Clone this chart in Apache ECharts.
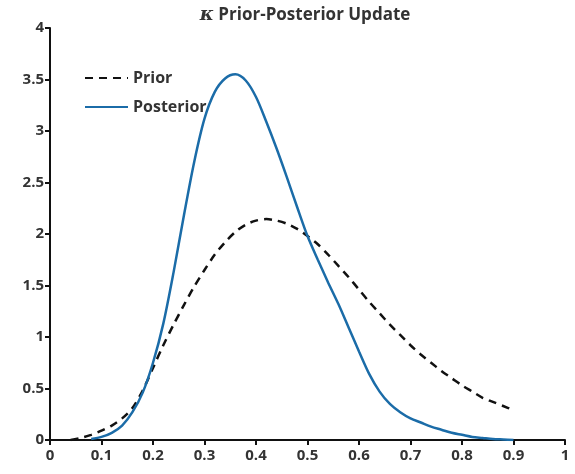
<!DOCTYPE html>
<html>
<head>
<meta charset="utf-8">
<script src="https://cdn.jsdelivr.net/npm/echarts@6/dist/echarts.min.js"></script>
<style>html,body{margin:0;padding:0;background:#fff;}#c{width:575px;height:474px;}</style>
</head>
<body>
<div id="c"></div>
<script>
var priorX = [0.04,0.06,0.08,0.10,0.12,0.14,0.16,0.18,0.20,0.22,0.24,0.26,0.28,0.30,0.32,0.34,0.36,0.38,0.40,0.42,0.44,0.46,0.48,0.50,0.52,0.54,0.56,0.58,0.60,0.62,0.64,0.66,0.68,0.70,0.72,0.74,0.76,0.78,0.80,0.82,0.84,0.86,0.88,0.90];
var priorY = [0.00,0.02,0.05,0.09,0.14,0.21,0.31,0.48,0.70,0.92,1.12,1.31,1.49,1.65,1.80,1.92,2.02,2.09,2.13,2.145,2.13,2.10,2.05,1.98,1.90,1.80,1.69,1.58,1.46,1.34,1.23,1.12,1.02,0.92,0.83,0.75,0.67,0.60,0.53,0.47,0.41,0.37,0.33,0.29];
var postX = [0.08,0.10,0.12,0.14,0.16,0.18,0.20,0.22,0.24,0.26,0.28,0.30,0.32,0.34,0.36,0.38,0.40,0.42,0.44,0.46,0.48,0.50,0.52,0.54,0.56,0.58,0.60,0.62,0.64,0.66,0.68,0.70,0.72,0.74,0.76,0.78,0.80,0.82,0.84,0.86,0.88,0.90];
var postY = [0.01,0.03,0.07,0.14,0.27,0.46,0.75,1.13,1.63,2.18,2.70,3.12,3.38,3.51,3.55,3.49,3.33,3.09,2.83,2.55,2.26,1.98,1.75,1.53,1.32,1.09,0.86,0.64,0.47,0.35,0.27,0.21,0.17,0.13,0.10,0.07,0.05,0.03,0.02,0.01,0.005,0.00];
var seriesNames = ['Prior','Posterior'];
var titleSymbol = 'κ';
var titleRest = ' Prior-Posterior Update';

function pairs(xs, ys){ return xs.map(function(x,i){ return [x, ys[i]]; }); }

var chart = echarts.init(document.getElementById('c'));
var font = '"Open Sans", Lato, sans-serif';
chart.setOption({
  animation: false,
  backgroundColor: '#fff',
  title: {
    text: '{k|' + titleSymbol + '}{t|' + titleRest + '}', left: 300, top: 1, textAlign: 'center',
    textStyle: {
      rich: {
        k: {fontFamily: '"DejaVu Serif", "Liberation Serif", serif', fontStyle: 'italic', fontSize: 19, color: '#333'},
        t: {fontFamily: font, fontSize: 17, fontWeight: 'bold', color: '#333'}
      }
    }
  },
  legend: {
    orient: 'vertical', left: 79, top: 65, itemWidth: 43, itemHeight: 14, itemGap: 13,
    data: seriesNames,
    itemStyle: {opacity: 0},
    textStyle: {fontFamily: font, fontSize: 16, fontWeight: 'bold', color: '#333'}
  },
  grid: {left: 50, right: 10, top: 28, bottom: 34},
  xAxis: {
    type: 'value', min: 0, max: 1, interval: 0.1,
    axisLine: {lineStyle: {color: '#111', width: 2}},
    axisTick: {show: true, inside: false, length: 5, lineStyle: {color: '#111', width: 2}},
    axisLabel: {fontFamily: font, fontSize: 15, fontWeight: 'bold', color: '#333', margin: 8},
    splitLine: {show: false}
  },
  yAxis: {
    type: 'value', min: 0, max: 4, interval: 0.5,
    axisLine: {show: true, lineStyle: {color: '#111', width: 2}},
    axisTick: {show: true, inside: false, length: 5, lineStyle: {color: '#111', width: 2}},
    axisLabel: {fontFamily: font, fontSize: 15, fontWeight: 'bold', color: '#333', margin: 6},
    splitLine: {show: false}
  },
  series: [
    {
      name: seriesNames[0], type: 'line', data: pairs(priorX, priorY), smooth: 0.3,
      symbol: 'none', color: '#111',
      lineStyle: {color: '#111', width: 2.5, type: [8, 6]}
    },
    {
      name: seriesNames[1], type: 'line', data: pairs(postX, postY), smooth: 0.3,
      symbol: 'none', color: '#1b6ca8',
      lineStyle: {color: '#1b6ca8', width: 2.5}
    }
  ]
});
</script>
</body>
</html>
